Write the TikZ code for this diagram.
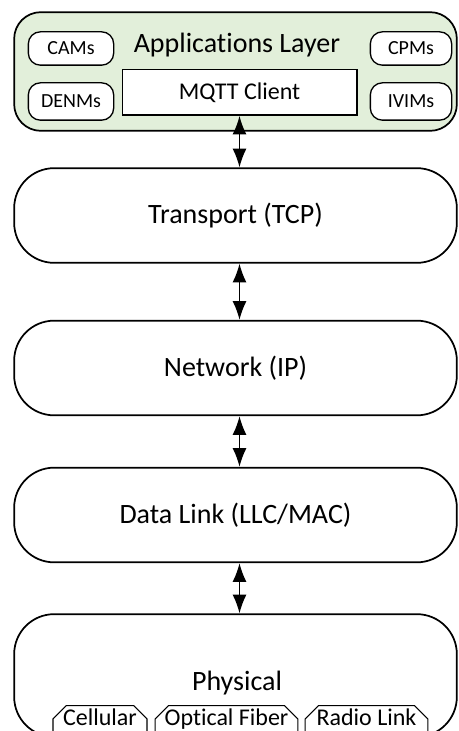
\documentclass[tikz,border=0pt]{standalone}
\usepackage{fontspec}
\setmainfont{Carlito}[Ligatures=NoCommon]
\usetikzlibrary{arrows.meta}
\usetikzlibrary{shapes.misc}
\definecolor{appgreen}{RGB}{226,239,218}

\begin{document}
\begin{tikzpicture}[x=0.75pt,y=-0.75pt,
                layer/.style={draw,line width=1.3pt,rounded corners=30pt,minimum width=332pt,minimum height=71pt,font=\fontsize{21}{24}\selectfont},
                msg/.style={draw,fill=white,line width=1pt,rounded corners=9pt,minimum width=64pt,font=\fontsize{15}{18}\selectfont},
                tab/.style={draw,fill=white,line width=0.8pt,chamfered rectangle,chamfered rectangle corners={north west,north east},chamfered rectangle xsep=5pt,chamfered rectangle ysep=5pt,inner xsep=0pt,inner ysep=1pt,text height=9pt,text depth=10pt,anchor=north,font=\fontsize{18}{20}\selectfont},
                link/.style={{Latex[length=14pt,width=10.5pt]}-{Latex[length=14pt,width=10.5pt]},line width=1.1pt},
                ]
                \clip (0,0) rectangle (458,731);
                \def\W{332pt}

                % applications layer
                \node[draw,fill=appgreen,line width=1.3pt,rounded corners=20pt,minimum width=\W,minimum height=89pt] (app) at (235.5,71.5) {};
                \node[font=\fontsize{21}{24}\selectfont] (applbl) at (237,45) {Applications Layer};
                \node[msg,minimum height=25pt] (cams) at (71,48.5) {CAMs};
                \node[msg,minimum height=28pt] (denms) at (71,101.5) {DENMs};
                \node[msg,minimum height=25pt,minimum width=61pt] (cpms) at (411,48.5) {CPMs};
                \node[msg,minimum height=28pt,minimum width=61pt] (ivims) at (411,101.5) {IVIMs};
                \node[draw,fill=white,line width=1pt,minimum width=176pt,minimum height=34pt,font=\fontsize{18}{20}\selectfont] (mqtt) at (239.5,92.5) {MQTT Client};

                % lower layers
                \node[layer] (tcp) at (235.5,215.5) {Transport (TCP)};
                \node[layer] (net) at (235.5,368) {Network (IP)};
                \node[layer] (dll) at (235.5,515) {Data Link (LLC/MAC)};
                \node[layer,minimum height=92pt] (phy) at (235.5,675.5) {};
                \node[font=\fontsize{21}{24}\selectfont] (phylbl) at (237,683) {Physical};

                \node[tab,minimum width=70.5pt] (cell) at (100,705) {Cellular};
                \node[tab,minimum width=107pt] (fiber) at (226.5,705) {Optical Fiber};
                \node[tab,minimum width=92pt] (radio) at (366.5,705) {Radio Link};

                \draw[link] (mqtt.south) -- (mqtt.south |- tcp.north);
                \draw[link] (tcp.south -| mqtt) -- (net.north -| mqtt);
                \draw[link] (net.south -| mqtt) -- (dll.north -| mqtt);
                \draw[link] (dll.south -| mqtt) -- (phy.north -| mqtt);
            \end{tikzpicture}
\end{document}
